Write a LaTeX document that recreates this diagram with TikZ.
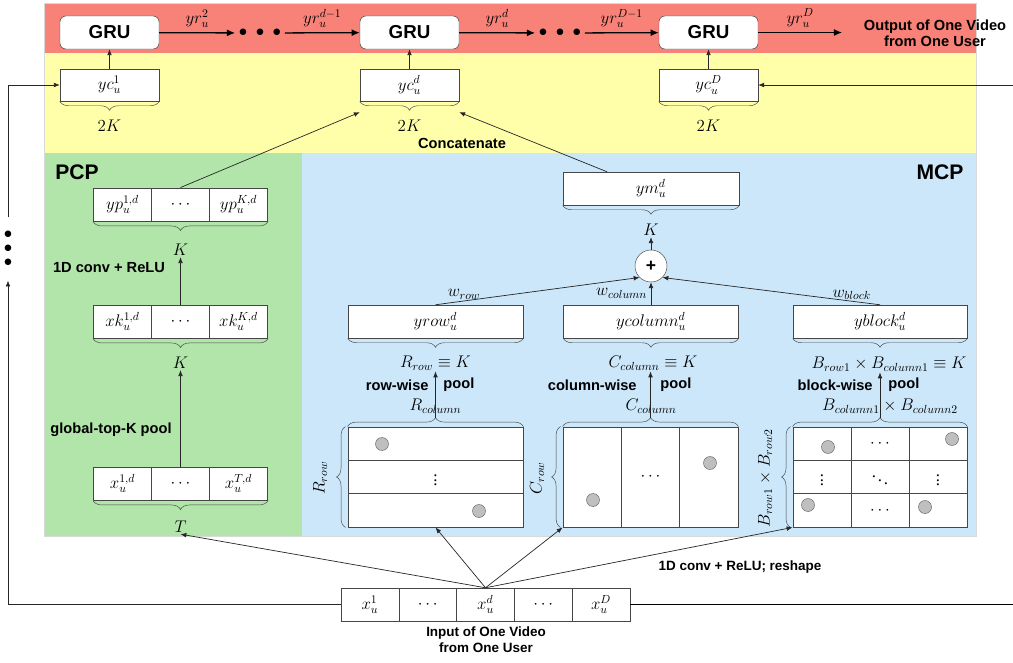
\documentclass[tikz,border=0pt]{standalone}
\usepackage{fontspec}
\setmainfont{Liberation Serif}
\setsansfont{Liberation Sans}
\usetikzlibrary{positioning}
\usetikzlibrary{matrix}
\usetikzlibrary{arrows.meta}
\usetikzlibrary{decorations.pathreplacing}

\newlength{\px}
\setlength{\px}{0.03cm}

\definecolor{gruband}{RGB}{248,130,119}
\definecolor{catband}{RGB}{255,255,170}
\definecolor{pcpband}{RGB}{178,229,170}
\definecolor{mcpband}{RGB}{204,231,250}
\definecolor{boxline}{RGB}{70,70,70}

\tikzset{
  gru/.style={draw=boxline, fill=white, rounded corners=5pt, minimum width=99\px, minimum height=33\px,
    inner sep=0pt, font=\sffamily\bfseries\fontsize{16}{18}\selectfont},
  vecbox/.style={draw=boxline, fill=white, minimum height=33\px, inner sep=0pt, font=\fontsize{14.4}{16}\selectfont},
  cellrow/.style={matrix of nodes, nodes in empty cells, inner sep=0pt,
    column sep=-\pgflinewidth, row sep=-\pgflinewidth,
    nodes={draw=boxline, fill=white, inner sep=0pt, anchor=center, font=\fontsize{14.4}{16}\selectfont}},
  sizelab/.style={font=\fontsize{14.4}{17}\selectfont, inner sep=1pt},
  mathlab/.style={font=\fontsize{14.4}{16}\selectfont, inner sep=1pt},
  opname/.style={font=\sffamily\bfseries\fontsize{12.5}{14}\selectfont, inner sep=1pt, align=center},
  smallop/.style={font=\sffamily\bfseries\fontsize{11.5}{13.5}\selectfont, inner sep=1pt, align=center},
  region/.style={font=\sffamily\bfseries\fontsize{18}{20}\selectfont},
  peak/.style={circle, draw=black!60, fill=black!25, minimum size=13\px, inner sep=0pt},
  brc/.style={decorate, decoration={brace, amplitude=9\px}, draw=boxline},
  flow/.style={-{Latex[length=5pt,width=4pt]}, draw=black!85, line width=0.6pt},
  seq/.style={-{Latex[length=7pt,width=6pt]}, line width=1.1pt},
  bigdots/.style={inner sep=3pt, font=\fontsize{14.4}{12}\selectfont, align=center},
}

\begin{document}
\begin{tikzpicture}[x=1\px, y=-1\px]
\useasboundingbox (0,0) rectangle (1013,662);

% bands
\fill[gruband] (44,3) rectangle (976,53);
\fill[catband] (44,53) rectangle (976,153);
\fill[pcpband] (44,153) rectangle (302,536);
\fill[mcpband] (302,153) rectangle (976,536);
\draw[black!15, line width=0.5pt] (44,3) rectangle (976,536);

% GRU chain
\node[gru] (gru1) at (109.5,32.5) {GRU};
\node[gru] (gru2) at (409.5,32.5) {GRU};
\node[gru] (gru3) at (708.5,32.5) {GRU};
\node[bigdots] (dots1) at (260,33) {$\bullet\;\bullet\;\bullet$};
\node[bigdots] (dots2) at (560,33) {$\bullet\;\bullet\;\bullet$};
\coordinate (out) at (842,32.5);
\draw[seq] (gru1) -- node[mathlab, above=3pt]{$yr_u^2$} (dots1);
\draw[seq] (dots1) -- node[mathlab, above=3pt]{$yr_u^{d-1}$} (gru2);
\draw[seq] (gru2) -- node[mathlab, above=3pt]{$yr_u^d$} (dots2);
\draw[seq] (dots2) -- node[mathlab, above=3pt]{$yr_u^{D-1}$} (gru3);
\draw[seq] (gru3) -- node[mathlab, above=3pt]{$yr_u^D$} (out);
\node[opname] (outtxt) at (935,33) {Output of One Video\\from One User};

% concatenated vectors
\node[vecbox, minimum width=99\px, minimum height=32\px] (yc1) at (109.5,85) {$yc_u^1$};
\node[vecbox, minimum width=99\px, minimum height=32\px] (ycd) at (409.5,85) {$yc_u^d$};
\node[vecbox, minimum width=99\px, minimum height=32\px] (ycD) at (708.5,85) {$yc_u^D$};
\draw[brc] (yc1.south east) -- (yc1.south west);
\draw[brc] (ycd.south east) -- (ycd.south west);
\draw[brc] (ycD.south east) -- (ycD.south west);
\node[sizelab] (k1) at (109.5,126) {$2K$};
\node[sizelab] (kd) at (409.5,126) {$2K$};
\node[sizelab] (kD) at (708.5,126) {$2K$};
\draw[flow] (yc1) -- (gru1);
\draw[flow] (ycd) -- (gru2);
\draw[flow] (ycD) -- (gru3);
\node[opname] (concat) at (462,143) {Concatenate};

% PCP
\node[region] (pcp) at (77,172) {PCP};
\matrix (yp) [cellrow, nodes={minimum width=58\px, minimum height=33\px}] at (180.5,204.5) {
  $yp_u^{1,d}$ & $\cdots$ & $yp_u^{K,d}$ \\
};
\matrix (xk) [cellrow, nodes={minimum width=58\px, minimum height=33\px}] at (180.5,321.5) {
  $xk_u^{1,d}$ & $\cdots$ & $xk_u^{K,d}$ \\
};
\matrix (xt) [cellrow, nodes={minimum width=58\px, minimum height=33\px}] at (180.5,483.5) {
  $x_u^{1,d}$ & $\cdots$ & $x_u^{T,d}$ \\
};
\draw[brc] (yp.south east) -- (yp.south west);
\draw[brc] (xk.south east) -- (xk.south west);
\draw[brc] (xt.south east) -- (xt.south west);
\node[sizelab] (kyp) at (180.5,250) {$K$};
\node[sizelab] (kxk) at (180.5,363) {$K$};
\node[sizelab] (tlab) at (180.5,527) {$T$};
\node[opname] (convpcp) at (109,268) {1D conv + ReLU};
\node[opname] (topk) at (111,430) {global-top-K pool};
\draw[flow] (xk.north) -- (kyp);
\draw[flow] (xt.north) -- (kxk);

% MCP
\node[region] (mcp) at (940,172) {MCP};
\node[vecbox, minimum width=176\px] (ym) at (651,188.5) {$ym_u^d$};
\draw[brc] (ym.south east) -- (ym.south west);
\node[sizelab] (kym) at (651,230) {$K$};
\node[circle, draw=boxline, fill=white, minimum size=32\px, inner sep=0pt,
  font=\sffamily\bfseries\fontsize{15}{15}\selectfont] (plus) at (651,266) {+};
\draw[flow] (plus) -- (kym);

\node[vecbox, minimum width=175\px] (yrow) at (435.5,321.5) {$yrow_u^d$};
\node[vecbox, minimum width=175\px] (ycol) at (651,321.5) {$ycolumn_u^d$};
\node[vecbox, minimum width=174\px] (yblk) at (880,321.5) {$yblock_u^d$};
\draw[brc] (yrow.south east) -- (yrow.south west);
\draw[brc] (ycol.south east) -- (ycol.south west);
\draw[brc] (yblk.south east) -- (yblk.south west);
\draw[flow] (yrow.north) -- node[mathlab, above, pos=0.14]{$w_{row}$} (plus.south west);
\draw[flow] (ycol.north) -- node[mathlab, left=2pt]{$w_{column}$} (plus.south);
\draw[flow] (yblk.north) -- node[mathlab, above, pos=0.13]{$w_{block}$} (plus.south east);

\node[mathlab] (lrow) at (435.5,363) {$R_{row}\equiv K$};
\node[mathlab] (lcol) at (653,363) {$C_{column}\equiv K$};
\node[mathlab] (lblk) at (889,364) {$B_{row1}\times B_{column1}\equiv K$};

% pooled grids
\matrix (rgrid) [cellrow, nodes={minimum width=175\px, minimum height=33.3\px}] at (435.5,477) {
  {} \\ $\vdots$ \\ {} \\
};
\matrix (cgrid) [cellrow, nodes={minimum width=58.3\px, minimum height=100\px}] at (650.5,477) {
  {} & $\cdots$ & {} \\
};
\matrix (bgrid) [cellrow, nodes={minimum width=58\px, minimum height=33.3\px}] at (880,477) {
  {} & $\cdots$ & {} \\
  $\vdots$ & $\ddots$ & $\vdots$ \\
  {} & $\cdots$ & {} \\
};
\node[peak] (r1) at (382,444) {};
\node[peak] (r2) at (479,511) {};
\node[peak] (c1) at (593,500) {};
\node[peak] (c2) at (710,463) {};
\node[peak] (b1) at (828,447) {};
\node[peak] (b2) at (952,439) {};
\node[peak] (b3) at (808,505) {};
\node[peak] (b4) at (925,507) {};

\draw[brc] (rgrid.north west) -- (rgrid.north east);
\draw[brc] (cgrid.north west) -- (cgrid.north east);
\draw[brc] (bgrid.north west) -- (bgrid.north east);
\draw[brc] ([xshift=-2\px]rgrid.south west) -- ([xshift=-2\px]rgrid.north west);
\draw[brc] ([xshift=-2\px]cgrid.south west) -- ([xshift=-2\px]cgrid.north west);
\draw[brc] ([xshift=-2\px]bgrid.south west) -- ([xshift=-2\px]bgrid.north west);
\node[mathlab] (rcol) at (435.5,406) {$R_{column}$};
\node[mathlab] (ccol) at (651,406) {$C_{column}$};
\node[mathlab] (bcol) at (890,406) {$B_{column1}\times B_{column2}$};
\node[mathlab, rotate=90] (rrow) at (320,478) {$R_{row}$};
\node[mathlab, rotate=90] (crow) at (537,478) {$C_{row}$};
\node[mathlab, rotate=90] (brow) at (765,478) {$B_{row1}\times B_{row2}$};

\draw[flow] ([yshift=9\px]rgrid.north) -- (lrow.south);
\draw[flow] ([yshift=9\px]cgrid.north) -- (cgrid.north |- lcol.south);
\draw[flow] ([yshift=9\px]bgrid.north) -- (bgrid.north |- lblk.south);
\node[opname, anchor=east] (rwise) at (430,385) {row-wise};
\node[opname, anchor=west] (rpool) at (442,385) {pool};
\node[opname, anchor=east] (cwise) at (638,385) {column-wise};
\node[opname, anchor=west] (cpool) at (659,385) {pool};
\node[opname, anchor=east] (bwise) at (874,385) {block-wise};
\node[opname, anchor=west] (bpool) at (887,385) {pool};

% concatenation inputs
\draw[flow] (yp.north) -- ([yshift=-11\px]ycd.south west);
\draw[flow] ([xshift=-44\px]ym.north) -- ([yshift=-11\px]ycd.south east);

% input sequence
\matrix (xin) [cellrow, nodes={minimum width=57.8\px, minimum height=33\px}] at (485.5,604.5) {
  $x_u^1$ & $\cdots$ & $x_u^d$ & $\cdots$ & $x_u^D$ \\
};
\node[smallop] (intxt) at (486,640) {Input of One Video\\from One User};
\node[smallop] (reshape) at (740,567) {1D conv + ReLU; reshape};
\draw[flow] (xin-1-3.north) -- (tlab.south);
\draw[flow] (xin-1-3.north) -- (rgrid.south);
\draw[flow] (xin-1-3.north) -- (cgrid.south west);
\draw[flow] (xin-1-3.north) -- (bgrid.south west);

% feedback from other videos
\node[bigdots] (vdots) at (8,249) {$\bullet$\\$\bullet$\\$\bullet$};
\coordinate (fbR) at (1013,604.5);
\coordinate (fbRtop) at (1013,85);
\draw[flow] (xin-1-1.west) -| ([yshift=-10\px]vdots.south);
\draw[flow] ([yshift=10\px]vdots.north) |- (yc1.west);
\draw[line width=0.6pt] (xin-1-5.east) -- (fbR);
\draw[flow] (fbRtop) -- (ycD.east);
\end{tikzpicture}
\end{document}
